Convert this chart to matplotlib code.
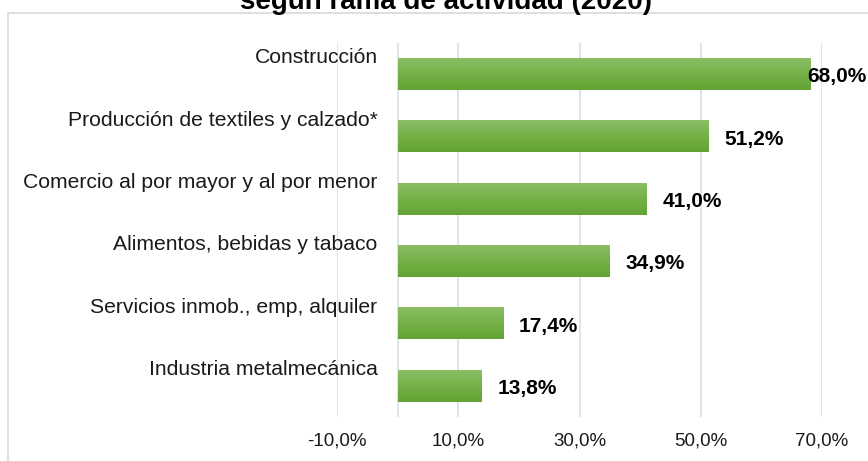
import numpy as np
import matplotlib.pyplot as plt
from matplotlib.patches import Rectangle
from matplotlib.colors import LinearSegmentedColormap

# datos
categorias = ['Construcción', 'Producción de textiles y calzado*',
              'Comercio al por mayor y al por menor', 'Alimentos, bebidas y tabaco',
              'Servicios inmob., emp, alquiler', 'Industria metalmecánica']
valores = [68.0, 51.2, 41.0, 34.9, 17.4, 13.8]
etiquetas = ['68,0%', '51,2%', '41,0%', '34,9%', '17,4%', '13,8%']
ticks_x = [-10, 10, 30, 50, 70]
ticks_lbl = ['-10,0%', '10,0%', '30,0%', '50,0%', '70,0%']
titulo = 'según rama de actividad (2020)'

plt.rcParams['font.family'] = ['Liberation Sans', 'DejaVu Sans']

W, H = 868, 461
fig = plt.figure(figsize=(W / 100, H / 100), dpi=100)

# marco gris del grafico (se sale por la derecha y abajo)
fig.patches.append(Rectangle((8 / W, -0.1), 1.2, 1.1 - 13 / H, transform=fig.transFigure,
                             fill=False, edgecolor='#d9d9d9', linewidth=1.2))
# titulo cortado arriba, igual que en la imagen original
fig.text(446 / W, 1 - 9 / H, titulo, ha='center', va='baseline',
         fontsize=20, fontweight='bold', color='#000000')

ax = fig.add_axes([337 / W, 1 - 417 / H, 485 / W, 374 / H])
y = np.arange(len(categorias))
gris = '#d9dee7'

barras = ax.barh(y, valores, height=0.51, color='none', zorder=3)

# degradado verde en cada barra
verde = LinearSegmentedColormap.from_list('verde', ['#8bbe66', '#74b146', '#63a334'])
grad = np.linspace(0, 1, 64).reshape(-1, 1)
for b in barras:
    x0, y0, w, h = b.get_x(), b.get_y(), b.get_width(), b.get_height()
    ax.imshow(grad, cmap=verde, aspect='auto', origin='upper',
              extent=(x0, x0 + w, y0 + h, y0), zorder=3)

ax.set_xlim(-10, 70)
ax.set_ylim(len(categorias) - 0.5, -0.5)
ax.set_xticks(ticks_x)
ax.set_xticklabels(ticks_lbl, fontsize=13.5, color='#1a1a1a')
ax.tick_params(axis='x', length=0, pad=11.5)
ax.set_yticks([])
ax.grid(axis='x', color=gris, linewidth=1.2, zorder=0)
ax.axvline(0, color=gris, linewidth=1.2, zorder=1)
for s in ax.spines.values():
    s.set_visible(False)
ax.set_axisbelow(True)

# nombres de categoria, un poco por encima de la barra
for i, cat in enumerate(categorias):
    ax.annotate(cat, (0, i), xytext=(-20, 11), textcoords='offset pixels',
                ha='right', va='baseline', fontsize=15.2, color='#1a1a1a',
                annotation_clip=False)

# etiquetas de valor
textos = []
for i, (v, lbl) in enumerate(zip(valores, etiquetas)):
    t = ax.annotate(lbl, (v, i), xytext=(16, -8), textcoords='offset pixels',
                    ha='left', va='baseline', fontsize=15, fontweight='bold',
                    color='#000000', annotation_clip=False)
    textos.append(t)

# la etiqueta que no cabe se corre a la izquierda
fig.canvas.draw()
r = fig.canvas.get_renderer()
for t in textos:
    bb = t.get_window_extent(r)
    if bb.x1 > W - 1:
        dx = bb.x1 - (W - 1)
        ox, oy = t.xyann
        t.xyann = (ox - dx, oy)

fig.savefig('out.png', dpi=100)
